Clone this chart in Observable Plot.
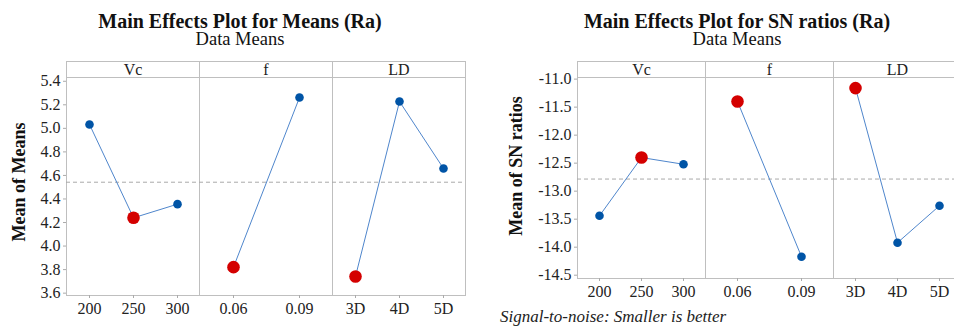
<!DOCTYPE html>
<html>
<head>
<meta charset="utf-8">
<script src="https://cdn.jsdelivr.net/npm/d3@7"></script>
<script src="https://cdn.jsdelivr.net/npm/@observablehq/plot@0.6"></script>
<style>
  html, body { margin: 0; padding: 0; background: #fff; }
  #root { position: relative; width: 954px; height: 331px; overflow: hidden; background: #fff;
          font-family: 'Liberation Serif', serif; color: #111; }
  .abs { position: absolute; }
  .tblock { font-size: 18.5px; line-height: 18px; text-align: center; white-space: pre-line; }
  .tblock::first-line { font-weight: bold; font-size: 20px; }
  .hdr { box-sizing: border-box; border: 1px solid #bfbfbf; font-size: 16px; line-height: 15px;
         text-align: center; color: #222; }
  .ylab { font-weight: bold; font-size: 18px; line-height: 20px; text-align: center; white-space: nowrap;
          transform: rotate(-90deg); }
  .foot { font-style: italic; font-size: 17px; line-height: 20px; white-space: nowrap; color: #222; }
  svg text { font-family: 'Liberation Serif', serif; }
</style>
</head>
<body>
<div id="root"></div>
<script>
// ---------------- data ----------------
const factors = ["Vc", "f", "LD"];
const levelsVc = ["200", "250", "300"];
const levelsF = ["0.06", "0.09"];
const levelsLD = ["3D", "4D", "5D"];

// Main effects for Means (Ra)
const meansVc = [5.033, 4.240, 4.356];
const meansF = [3.821, 5.262];
const meansLD = [3.742, 5.228, 4.659];

// Main effects for SN ratios (Ra)
const snVc = [-13.44, -12.40, -12.52];
const snF = [-11.40, -14.17];
const snLD = [-11.16, -13.92, -13.26];

const meansTicks = [3.6, 3.8, 4.0, 4.2, 4.4, 4.6, 4.8, 5.0, 5.2, 5.4];
const snTicks = [-14.5, -14.0, -13.5, -13.0, -12.5, -12.0, -11.5, -11.0];

const titleMeans = "Main Effects Plot for Means (Ra)";
const titleSN = "Main Effects Plot for SN ratios (Ra)";
const subtitle = "Data Means";
const ylabMeans = "Mean of Means";
const ylabSN = "Mean of SN ratios";
const footnote = "Signal-to-noise: Smaller is better";

// ---------------- helpers ----------------
const root = document.getElementById("root");
function addDiv(cls, text, css) {
  const d = document.createElement("div");
  d.className = "abs " + cls;
  d.textContent = text;
  Object.assign(d.style, css);
  root.appendChild(d);
  return d;
}

const FONT = "'Liberation Serif', serif";
const COL_LINE = "#4f86cc";
const COL_DOT = "#0054a6";
const COL_BEST = "#d40000";
const COL_FRAME = "#bfbfbf";

function panel({levels, values, best, yDomain, yTicks, showY, w, h, marginLeft, marginBottom, mean}) {
  const rows = levels.map((l, i) => ({level: l, value: values[i], best: values[i] === best}));
  return Plot.plot({
    width: marginLeft + w,
    height: h + marginBottom,
    marginLeft, marginRight: 0, marginTop: 0, marginBottom,
    x: {type: "point", domain: levels, padding: 0.5},
    y: showY ? {domain: yDomain} : {domain: yDomain, axis: null},
    style: {fontFamily: FONT, fontSize: "16px", color: "#222", maxWidth: "none",
            background: "transparent", overflow: "visible"},
    marks: [
      Plot.frame({stroke: COL_FRAME}),
      Plot.ruleY([mean], {stroke: "#a9a9a9", strokeDasharray: "4,3"}),
      Plot.line(rows, {x: "level", y: "value", stroke: COL_LINE, strokeWidth: 1}),
      Plot.dot(rows.filter(d => !d.best), {x: "level", y: "value", r: 4.3, fill: COL_DOT}),
      Plot.dot(rows.filter(d => d.best), {x: "level", y: "value", r: 6.3, fill: COL_BEST}),
      Plot.axisX({tickSize: 3, tickPadding: 4, stroke: "#aaa", fill: "#222", label: null,
                  fontFamily: FONT, fontSize: 16}),
      showY ? Plot.axisY({ticks: yTicks, tickSize: 3, tickPadding: 3, stroke: "#aaa", fill: "#222",
                          tickFormat: d => d.toFixed(1), label: null,
                          fontFamily: FONT, fontSize: 16}) : null
    ]
  });
}

function chart({levelSets, valueSets, optimum, yDomain, yTicks, x0, pw, top, h, marginLeft, marginBottom}) {
  const factorMeans = valueSets.map(v => d3.mean(v));
  const grand = d3.mean(factorMeans);
  factors.forEach((f, i) => {
    const best = optimum === "min" ? d3.min(valueSets[i]) : d3.max(valueSets[i]);
    const ml = i === 0 ? marginLeft : 0;
    const svg = panel({levels: levelSets[i], values: valueSets[i], best, yDomain, yTicks,
                       showY: i === 0, w: pw, h, marginLeft: ml, marginBottom, mean: grand});
    svg.style.maxWidth = "none";
    const holder = document.createElement("div");
    holder.className = "abs";
    holder.style.left = (x0 + i * pw - ml) + "px";
    holder.style.top = top + "px";
    holder.style.width = (ml + pw) + "px";
    holder.appendChild(svg);
    root.appendChild(holder);
    addDiv("hdr", f, {left: (x0 + i * pw) + "px", top: (top - 16) + "px", width: (pw + 1) + "px", height: "17px"});
  });
}

// ---------------- left chart: Means ----------------
addDiv("tblock", titleMeans + "\n" + subtitle, {left: "0px", width: "480px", top: "12px"});
addDiv("ylab", ylabMeans, {left: (19 - 80) + "px", top: (182 - 10) + "px", width: "160px"});
chart({
  levelSets: [levelsVc, levelsF, levelsLD],
  valueSets: [meansVc, meansF, meansLD],
  optimum: "min",
  yDomain: [3.58, 5.432], yTicks: meansTicks,
  x0: 66, pw: 133, top: 77, h: 218, marginLeft: 66, marginBottom: 36
});

// ---------------- right chart: SN ratios ----------------
addDiv("tblock", titleSN + "\n" + subtitle, {left: "480px", width: "514px", top: "12px"});
addDiv("ylab", ylabSN, {left: (516 - 100) + "px", top: (165.5 - 10) + "px", width: "200px"});
chart({
  levelSets: [levelsVc, levelsF, levelsLD],
  valueSets: [snVc, snF, snLD],
  optimum: "max",
  yDomain: [-14.559, -10.971], yTicks: snTicks,
  x0: 577, pw: 128, top: 77, h: 201, marginLeft: 60, marginBottom: 30
});

addDiv("foot", footnote, {left: "500px", top: "307px"});
</script>
</body>
</html>
